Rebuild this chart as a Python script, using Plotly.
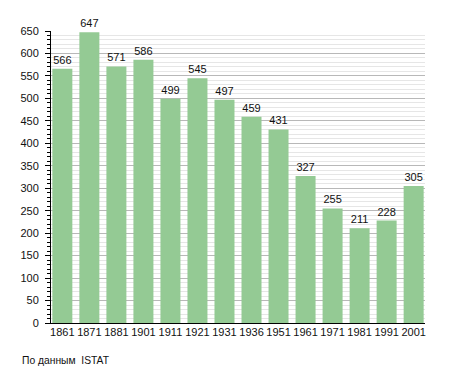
import plotly.graph_objects as go

years = ["1861", "1871", "1881", "1901", "1911", "1921", "1931", "1936",
         "1951", "1961", "1971", "1981", "1991", "2001"]
population = [566, 647, 571, 586, 499, 545, 497, 459, 431, 327, 255, 211, 228, 305]
y_ticks = list(range(0, 651, 50))
source_note = "По данным\u00a0 ISTAT"

fig = go.Figure()
fig.add_trace(go.Bar(
    x=years, y=population,
    marker=dict(color="rgb(148,202,148)", line=dict(width=0)),
    width=0.74,
    text=[str(v) for v in population],
    textposition="outside",
    cliponaxis=False,
    textfont=dict(family="Liberation Sans, Arial, sans-serif", size=11, color="#111"),
))

fig.update_layout(
    width=455, height=373,
    margin=dict(l=41, r=38, t=23, b=58),
    paper_bgcolor="white", plot_bgcolor="white",
    showlegend=False,
    font=dict(family="Liberation Sans, Arial, sans-serif", size=11, color="#111"),
)
fig.update_xaxes(
    type="category", range=[-0.42, 13.42],
    showline=True, linecolor="black", linewidth=1,
    ticks="", showgrid=False, tickfont=dict(size=11),
    ticklabelstandoff=-1,
)
fig.update_yaxes(
    range=[0, 650], tickvals=y_ticks,
    showline=True, linecolor="black", linewidth=1,
    ticks="outside", ticklen=5, tickcolor="black",
    showgrid=True, gridcolor="#b8b8b8", gridwidth=1,
    zeroline=False,
    minor=dict(dtick=10, showgrid=True, gridcolor="#e6e6e6",
               ticks="outside", ticklen=3, tickcolor="black"),
    tickfont=dict(size=11),
    ticklabelstandoff=4,
)
fig.add_annotation(
    text=source_note, xref="paper", yref="paper",
    x=-0.083, y=-0.130, xanchor="left", yanchor="middle",
    showarrow=False, font=dict(size=10.3, color="#111"),
)
fig.write_html("out.html")
